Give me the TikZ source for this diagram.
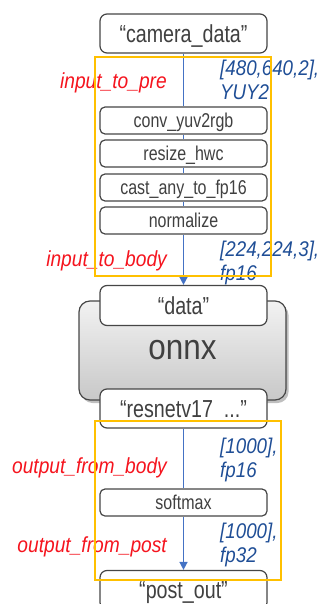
\documentclass[tikz,border=0pt]{standalone}
\usepackage{fontspec}
\setmainfont{Liberation Sans}[FakeStretch=0.8]
\newfontfamily\labelfont{Liberation Sans}[FakeStretch=0.88]
\usetikzlibrary{arrows.meta}
\definecolor{boxline}{RGB}{70,70,70}
\definecolor{boxtext}{RGB}{64,64,64}
\definecolor{flowblue}{RGB}{68,114,196}
\definecolor{labelblue}{RGB}{31,78,150}
\definecolor{labelred}{RGB}{245,20,30}
\definecolor{frameyellow}{RGB}{255,192,0}
\definecolor{onnxtop}{RGB}{242,242,242}
\definecolor{onnxbot}{RGB}{200,200,200}
\tikzset{
  namebox/.style={draw=boxline, line width=1.2pt, rounded corners=7pt, fill=white,
    minimum width=167pt, minimum height=39pt, inner sep=0pt, text=boxtext,
    font=\fontsize{24.6}{24.6}\selectfont, text height=17.6pt, text depth=0pt},
  stepbox/.style={draw=boxline, line width=1.2pt, rounded corners=5pt, fill=white,
    minimum width=167pt, minimum height=27pt, inner sep=0pt, text=boxtext,
    font=\fontsize{20}{20}\selectfont, text height=14.3pt, text depth=0pt},
  enginebox/.style={draw=boxline, line width=1.2pt, rounded corners=11pt,
    top color=onnxtop, bottom color=onnxbot,
    minimum width=207pt, minimum height=99pt, inner sep=0pt, text=boxtext,
    font=\labelfont\fontsize{35.7}{35.7}\selectfont, text height=18.5pt, text depth=0pt},
  flow/.style={draw=flowblue, line width=1.5pt},
  flowarrow/.style={flow, -{Triangle[width=8pt,length=8pt]}},
  redlabel/.style={text=labelred, font=\labelfont\fontsize{21.8}{21.8}\selectfont\itshape, inner sep=0pt, anchor=base east},
  bluelabel/.style={text=labelblue, font=\labelfont\fontsize{21.3}{24}\selectfont\itshape, inner sep=0pt, align=left, anchor=base west},
  frame/.style={draw=frameyellow, line width=1.5pt}
}
\begin{document}
\begin{tikzpicture}[x=1pt,y=-1pt]
\useasboundingbox (0,0) rectangle (321,604);
% onnx engine with shadow
\fill[black, opacity=0.25, rounded corners=11pt] (81.5,304) rectangle (288.5,403);
\node[enginebox] (onnx) at (182.5,350.5) {onnx};
% boxes
\node[namebox] (cam) at (183.5,33.5) {“camera\_data”};
\node[stepbox] (conv) at (183.5,120.5) {conv\_yuv2rgb};
\node[stepbox] (resize) at (183.5,153.5) {resize\_hwc};
\node[stepbox] (cast) at (183.5,187.5) {cast\_any\_to\_fp16};
\node[stepbox] (norm) at (183.5,220.5) {normalize};
\node[namebox, minimum height=40pt] (data) at (183.5,305.5) {“data”};
\node[namebox] (resnet) at (183.5,408.5) {“resnetv17\_...”};
\node[stepbox] (soft) at (183.5,502.5) {softmax};
\node[namebox] (post) at (183.5,590) {“post\_out”};
% connectors
\draw[flow] (cam.south) -- (conv.north);
\draw[flow] (conv.south) -- (resize.north);
\draw[flow] (resize.south) -- (cast.north);
\draw[flow] (cast.south) -- (norm.north);
\draw[flowarrow] (norm.south) -- (data.north);
\draw[flow] (resnet.south) -- (soft.north);
\draw[flowarrow] (soft.south) -- (post.north);
% labels
\node[redlabel] (l1) at (167,89) {input\_to\_pre};
\node[redlabel] (l2) at (167,266) {input\_to\_body};
\node[redlabel] (l3) at (167,473) {output\_from\_body};
\node[redlabel] (l4) at (167,552) {output\_from\_post};
\node[bluelabel] (b1) at (220,100) {[480,640,2],\\YUY2};
\node[bluelabel] (b2) at (220,280) {[224,224,3],\\fp16};
\node[bluelabel] (b3) at (220,477) {[1000],\\fp16};
\node[bluelabel] (b4) at (220,562) {[1000],\\fp32};
% yellow frames
\draw[frame] (95,57) rectangle (271,276);
\draw[frame] (95,421) rectangle (281,580);
\end{tikzpicture}
\end{document}
